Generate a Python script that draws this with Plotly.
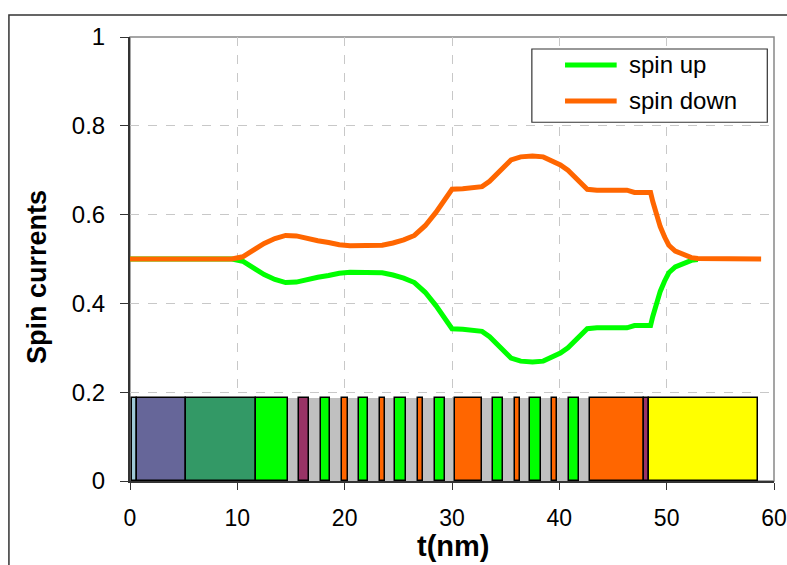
import plotly.graph_objects as go

# --- Data ---
t_down = [0, 9.5, 10.5, 11.5, 12.5, 13.5, 14.5, 15.5, 16.5, 17.5, 18.5, 19.5, 20.5, 21.5,
          22.5, 23.5, 24.5, 25.5, 26.5, 27.5, 28.5, 29.5, 30, 31, 32, 32.8, 33.5, 34.2, 35,
          35.5, 36.4, 37.5, 38.5, 39.3, 40.1, 40.8, 41.4, 42, 42.6, 43.5, 45, 46.3, 47, 48.5,
          48.7, 49, 49.4, 49.8, 50.2, 50.8, 51.6, 52.3, 52.9, 55, 58.8]
spin_down = [0.5, 0.5, 0.505, 0.52, 0.535, 0.546, 0.553, 0.552, 0.546, 0.541, 0.537, 0.532,
             0.530, 0.530, 0.530, 0.531, 0.536, 0.543, 0.553, 0.575, 0.605, 0.64, 0.657, 0.658,
             0.66, 0.663, 0.675, 0.693, 0.71, 0.723, 0.73, 0.732, 0.73, 0.722, 0.712, 0.70,
             0.685, 0.67, 0.657, 0.655, 0.655, 0.655, 0.65, 0.65, 0.63, 0.605, 0.573, 0.55,
             0.531, 0.518, 0.509, 0.503, 0.501, 0.5, 0.5]

t_up = [0, 9.5, 10.5, 11.5, 12.5, 13.5, 14.5, 15.5, 16.5, 17.5, 18.5, 19.5, 20.5, 21.5,
        22.5, 23.5, 24.5, 25.5, 26.5, 27.5, 28.5, 29.5, 30, 31, 32, 32.8, 33.5, 34.2, 35,
        35.5, 36.4, 37.5, 38.5, 39.3, 40.1, 40.8, 41.4, 42, 42.6, 43.5, 45, 46.3, 47, 48.5,
        48.7, 49, 49.4, 49.8, 50.2, 50.8, 51.6, 52.3, 52.9]
spin_up = [0.5, 0.5, 0.495, 0.48, 0.465, 0.454, 0.447, 0.448, 0.454, 0.459, 0.463, 0.468,
           0.470, 0.470, 0.470, 0.469, 0.464, 0.457, 0.447, 0.425, 0.395, 0.36, 0.343, 0.342,
           0.34, 0.337, 0.325, 0.307, 0.29, 0.277, 0.27, 0.268, 0.27, 0.278, 0.288, 0.30,
           0.315, 0.33, 0.343, 0.345, 0.345, 0.345, 0.35, 0.35, 0.37, 0.395, 0.427, 0.45,
           0.469, 0.482, 0.491, 0.497, 0.499]

# layer structure strips (start, end, colour)
layer_start = [0.15, 0.68, 5.2, 11.7, 14.7, 15.7, 16.7, 17.8, 18.65, 19.75, 20.27, 21.3,
               22.2, 23.25, 23.8, 24.7, 25.7, 26.8, 27.3, 28.4, 29.35, 30.3, 32.8, 33.8,
               34.75, 35.85, 36.3, 37.3, 38.25, 39.3, 39.8, 40.9, 41.85, 42.85, 47.9, 48.4]
layer_end = [0.68, 5.2, 11.7, 14.7, 15.7, 16.7, 17.8, 18.65, 19.75, 20.27, 21.3, 22.2,
             23.25, 23.8, 24.7, 25.7, 26.8, 27.3, 28.4, 29.35, 30.3, 32.8, 33.8, 34.75,
             35.85, 36.3, 37.3, 38.25, 39.3, 39.8, 40.9, 41.85, 42.85, 47.9, 48.4, 58.5]
layer_color = ["#9fc9d6", "#666699", "#339966", "#00ff00", "#c0c0c0", "#993366", "#c0c0c0",
               "#00ff00", "#c0c0c0", "#ff6600", "#c0c0c0", "#00ff00", "#c0c0c0", "#ff6600",
               "#c0c0c0", "#00ff00", "#c0c0c0", "#ff6600", "#c0c0c0", "#00ff00", "#c0c0c0",
               "#ff6600", "#c0c0c0", "#00ff00", "#c0c0c0", "#ff6600", "#c0c0c0", "#00ff00",
               "#c0c0c0", "#ff6600", "#c0c0c0", "#00ff00", "#c0c0c0", "#ff6600", "#993366",
               "#ffff00"]
strip_height = 0.188

series_names = ["spin up", "spin down"]
series_colors = ["#00ff00", "#ff6600"]

x_ticks = [0, 10, 20, 30, 40, 50, 60]
y_ticks = [0, 0.2, 0.4, 0.6, 0.8, 1]

FONT = "Liberation Sans, Arial, sans-serif"

fig = go.Figure()

# gray strips (no outline) and coloured strips (black outline)
g_x, g_w, c_x, c_w, c_c = [], [], [], [], []
for s, e, c in zip(layer_start, layer_end, layer_color):
    if c == "#c0c0c0":
        g_x.append((s + e) / 2); g_w.append(e - s)
    else:
        c_x.append((s + e) / 2); c_w.append(e - s); c_c.append(c)

fig.add_trace(go.Bar(x=g_x, y=[strip_height] * len(g_x), width=g_w,
                     marker=dict(color="#c0c0c0", line=dict(width=0)),
                     showlegend=False, hoverinfo="skip"))
fig.add_trace(go.Bar(x=c_x, y=[strip_height] * len(c_x), width=c_w,
                     marker=dict(color=c_c, line=dict(color="black", width=1.5)),
                     showlegend=False, hoverinfo="skip"))

fig.add_trace(go.Scatter(x=t_up, y=spin_up, mode="lines", name=series_names[0],
                         line=dict(color=series_colors[0], width=5), showlegend=False))
fig.add_trace(go.Scatter(x=t_down, y=spin_down, mode="lines", name=series_names[1],
                         line=dict(color=series_colors[1], width=5), showlegend=False))

fig.update_layout(
    width=787, height=565,
    margin=dict(l=130, r=13, t=37, b=84),
    paper_bgcolor="white", plot_bgcolor="white",
    barmode="overlay", bargap=0,
    font=dict(family=FONT, size=23, color="black"),
    showlegend=False,
)
fig.update_xaxes(range=[0, 60], tickvals=x_ticks, ticks="outside", ticklen=7,
                 tickcolor="#333", showline=True, linecolor="#333", linewidth=2,
                 showgrid=True, gridcolor="#c8c8c8", griddash="dash", gridwidth=1,
                 zeroline=False, tickfont=dict(size=23), ticklabelstandoff=8,
                 automargin=False)
fig.update_yaxes(range=[0, 1], tickvals=y_ticks, ticks="outside", ticklen=8,
                 tickcolor="#333", showline=True, linecolor="#333", linewidth=2,
                 showgrid=True, gridcolor="#c8c8c8", griddash="dash", gridwidth=1,
                 zeroline=False, tickfont=dict(size=24), ticklabelstandoff=10,
                 automargin=False)

# plot-area border (gray) and outer chart border
fig.add_shape(type="rect", xref="paper", yref="paper", x0=0, x1=1, y0=0, y1=1,
              line=dict(color="#888", width=1.5), layer="below")
fig.add_shape(type="rect", xref="paper", yref="paper", x0=-0.188, x1=1.1, y0=-0.4, y1=1.0495,
              line=dict(color="#333", width=1.5), layer="below")

# legend box (Excel-style)
fig.add_shape(type="rect", xref="paper", yref="paper", x0=0.624, x1=0.9896, y0=0.808, y1=0.973,
              line=dict(color="#333", width=1.2), fillcolor="white", layer="above")
for i, (nm, col) in enumerate(zip(series_names, series_colors)):
    yy = 0.937 - i * 0.081
    fig.add_shape(type="line", xref="paper", yref="paper", x0=0.6755, x1=0.7557, y0=yy, y1=yy,
                  line=dict(color=col, width=5), layer="above")
    fig.add_annotation(text=nm, xref="paper", yref="paper", x=0.7717, y=yy, xanchor="left",
                       yanchor="middle", showarrow=False, font=dict(size=24))

fig.add_annotation(text="<b>t(nm)</b>", xref="paper", yref="paper", x=0.5016, y=-0.1464,
                   showarrow=False, font=dict(size=29), yanchor="middle")
fig.add_annotation(text="<b>Spin currents</b>", xref="paper", yref="paper", x=-0.1445, y=0.4595,
                   showarrow=False, font=dict(size=27), textangle=-90, xanchor="center",
                   yanchor="middle")

fig.write_html("out.html", config={"displayModeBar": False},
               post_script="document.body.style.margin='0';document.body.style.overflow='hidden';")
